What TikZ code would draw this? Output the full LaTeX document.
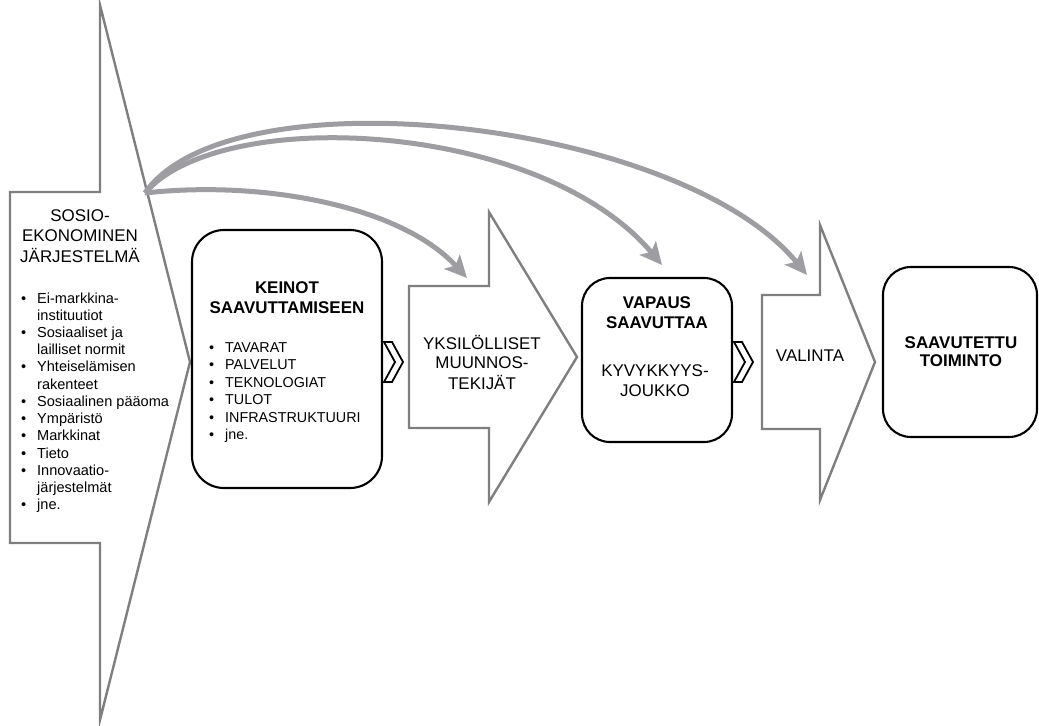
\documentclass[tikz,border=0pt]{standalone}
\usepackage{fontspec}
\setmainfont{Liberation Sans}
\usetikzlibrary{arrows.meta}
\definecolor{shapegray}{HTML}{7F7F7F}
\definecolor{curvegray}{HTML}{9D9DA2}
\newcommand{\mlines}[1]{\begin{tabular}[t]{@{}c@{}}#1\end{tabular}}
\newcommand{\blist}[1]{\begin{tabular}[t]{@{}l@{}l@{}}#1\end{tabular}}
\newcommand{\bul}{\makebox[16bp][l]{\textbullet}}
\tikzset{
  bigarrow/.style={draw=shapegray, line width=2.4bp, line join=miter, fill=white},
  roundbox/.style={draw=black, line width=2.1bp, fill=white},
  chev/.style={draw=black, line width=1.8bp, fill=white, line join=miter},
  link/.style={draw=curvegray, line width=5bp, -{Stealth[length=22bp,width=21bp,inset=5bp]}},
  txt/.style={inner sep=0, anchor=base, font=\fontsize{17}{21}\selectfont},
  btxt/.style={inner sep=0, anchor=base, font=\fontsize{17}{20.5}\selectfont\bfseries},
  ltxt/.style={inner sep=0, anchor=base west, font=\fontsize{14.6}{17.3}\selectfont}
}
\begin{document}
\begin{tikzpicture}[x=1bp,y=-1bp]
\useasboundingbox (0,0) rectangle (1039,726);
% big left arrow
\draw[bigarrow] (10,192) -- (100,192) -- (100,5) -- (190,362) -- (100,720) -- (100,543) -- (10,543) -- cycle;
% arrow 3
\draw[bigarrow] (409,286) -- (489,286) -- (489,212) -- (577,357) -- (489,502) -- (489,428) -- (409,428) -- cycle;
% arrow 5
\draw[bigarrow] (762,295) -- (820,295) -- (820,225) -- (875,362) -- (820,500) -- (820,429) -- (762,429) -- cycle;
% rounded boxes
\node[roundbox, rounded corners=32bp, minimum width=190bp, minimum height=258bp] (keinot) at (287,359) {};
\node[roundbox, rounded corners=28bp, minimum width=150bp, minimum height=164bp] (vapaus) at (657,360) {};
\node[roundbox, rounded corners=28bp, minimum width=154bp, minimum height=170bp] (saav) at (960,352) {};
% chevrons
\draw[chev] (384,342) -- (392,342) -- (403,362) -- (392,382) -- (384,382) -- (395,362) -- cycle;
\draw[chev] (734,342) -- (742,342) -- (753,362) -- (742,382) -- (734,382) -- (745,362) -- cycle;
% texts
\node[txt] (sosio) at (80,221) {\mlines{SOSIO-\\EKONOMINEN\\JÄRJESTELMÄ}};
\node[ltxt] (sosiolist) at (21,303) {\blist{\bul & Ei-markkina-\\ & instituutiot\\ \bul & Sosiaaliset ja\\ & lailliset normit\\ \bul & Yhteiselämisen\\ & rakenteet\\ \bul & Sosiaalinen pääoma\\ \bul & Ympäristö\\ \bul & Markkinat\\ \bul & Tieto\\ \bul & Innovaatio-\\ & järjestelmät\\ \bul & jne.}};
\node[btxt] (keinothead) at (287,293) {\mlines{KEINOT\\SAAVUTTAMISEEN}};
\node[ltxt, font=\fontsize{14.4}{17.6}\selectfont] (keinotlist) at (209,352) {\blist{\bul & TAVARAT\\ \bul & PALVELUT\\ \bul & TEKNOLOGIAT\\ \bul & TULOT\\ \bul & INFRASTRUKTUURI\\ \bul & jne.}};
\node[txt, font=\fontsize{17}{20}\selectfont] (yksil) at (482,349) {\mlines{YKSILÖLLISET\\MUUNNOS-\\TEKIJÄT}};
\node[btxt] (vapaushead) at (657,308) {\mlines{VAPAUS\\SAAVUTTAA}};
\node[txt] (kyvyk) at (655,376) {\mlines{KYVYKKYYS-\\JOUKKO}};
\node[txt] (valinta) at (810,361) {VALINTA};
\node[btxt, font=\fontsize{17}{19}\selectfont\bfseries] (saavhead) at (961,348) {\mlines{SAAVUTETTU\\TOIMINTO}};
% curved connectors
\coordinate (src) at (145,193);
\coordinate (tA) at (467,278);
\coordinate (tB) at (662,265);
\coordinate (tC) at (807,275);
\draw[link] (src) .. controls (260,180) and (400,205) .. (tA);
\draw[link] (src) .. controls (220,105) and (540,120) .. (tB);
\draw[link] (src) .. controls (230,70) and (680,120) .. (tC);
\end{tikzpicture}
\end{document}
